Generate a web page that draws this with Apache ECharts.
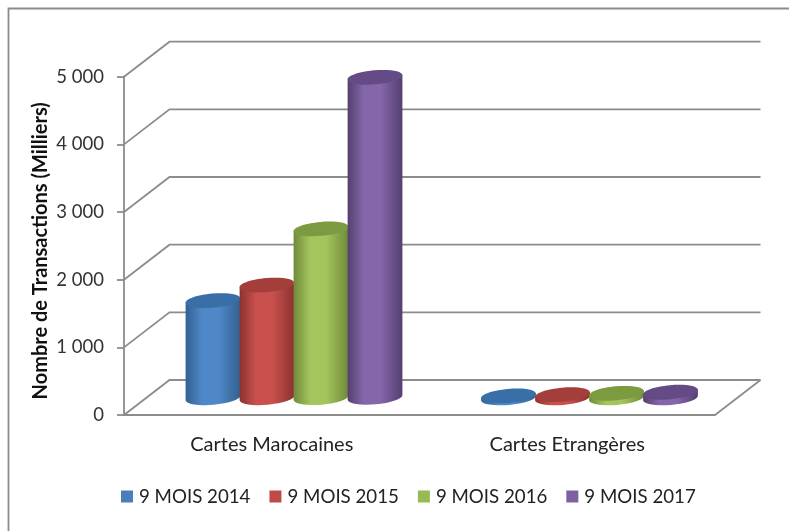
<!DOCTYPE html>
<html><head><meta charset="utf-8">
<style>html,body{margin:0;padding:0;background:#fff}#c{width:789px;height:531px}</style>
<script src="https://cdn.jsdelivr.net/npm/echarts@6/dist/echarts.min.js"></script>
</head><body><div id="c"></div>
<script>
const categories = ['Cartes Marocaines', 'Cartes Etrangères'];
const seriesNames = ['9 MOIS 2014', '9 MOIS 2015', '9 MOIS 2016', '9 MOIS 2017'];
const values2014 = [1440, 30];
const values2015 = [1670, 50];
const values2016 = [2500, 70];
const values2017 = [4740, 85];
const yTicks = [0, 1000, 2000, 3000, 4000, 5000];
const allValues = [values2014, values2015, values2016, values2017];

const palette = [
  {legend:'#4a7ebb', edge:'#33608f', mid:'#4f88c8', top:'#376fa6'},
  {legend:'#be4b48', edge:'#8a3331', mid:'#c9504d', top:'#a33e3b'},
  {legend:'#98b954', edge:'#6f8a3a', mid:'#a4c45c', top:'#7c9a40'},
  {legend:'#7d60a0', edge:'#54406f', mid:'#8566ab', top:'#644b85'}
];
const FONT = 'Lato';
const LINE = '#8c8c8c';
const DX = 45.5, DY = 35;          // depth of the 3D floor
const STEP = 54, RX = 27.6, RY = 7, TILT = 5 * Math.PI / 180;

function cylinder(i) {
  return function (params, api) {
    const cat = api.value(0), v = api.value(1);
    const p0 = api.coord([cat, 0]), p1 = api.coord([cat, v]);
    const cx = p0[0] + DX / 2 - 0.5 + (i - 1.5) * STEP;
    const base = p0[1] - DY / 2 + 0.5, top = p1[1] - DY / 2 + 0.5;
    const dx = RX * Math.cos(TILT), dy = RX * Math.sin(TILT);
    const deg = -TILT * 180 / Math.PI;
    const c = palette[i];
    const body = `M${cx - dx} ${top + dy}L${cx - dx} ${base + dy}A${RX} ${RY} ${deg} 0 0 ${cx + dx} ${base - dy}L${cx + dx} ${top - dy}Z`;
    return {type: 'group', silent: true, children: [
      {type: 'path', shape: {pathData: body, layout: 'center',
        x: cx - dx, y: top - dy, width: 2 * dx, height: base - top + RY + dy},
        style: {fill: {type: 'linear', x: 0, y: 0, x2: 1, y2: 0, colorStops: [
          {offset: 0, color: c.edge}, {offset: 0.3, color: c.mid}, {offset: 0.6, color: c.mid}, {offset: 1, color: c.edge}]}}},
      {type: 'ellipse', x: cx, y: top, rotation: TILT, shape: {cx: 0, cy: 0, rx: RX, ry: RY}, style: {fill: c.top}}
    ]};
  };
}

function walls(params, api) {
  const s = params.coordSys, v = api.value(0), y = api.coord([0, v])[1];
  const st = {stroke: LINE, lineWidth: 1.8, fill: 'none'};
  const ch = [
    {type: 'polyline', shape: {points: [[s.x, y], [s.x + DX, y - DY], [s.x + s.width + DX, y - DY]]}, style: st}
  ];
  if (v === 0) ch.push({type: 'line', shape: {x1: s.x + s.width, y1: y, x2: s.x + s.width + DX, y2: y - DY}, style: st});
  return {type: 'group', silent: true, children: ch};
}

const series = [{
  type: 'custom', name: 'walls', coordinateSystem: 'cartesian2d', clip: false, silent: true, z: 1,
  renderItem: walls, encode: {y: 0}, data: yTicks.map(v => [v])
}];
seriesNames.forEach((n, i) => series.push({
  type: 'custom', name: n, coordinateSystem: 'cartesian2d', clip: false, z: 3 + i,
  itemStyle: {color: palette[i].legend},
  encode: {x: 0, y: 1},
  renderItem: cylinder(i),
  data: categories.map((c, k) => [k, allValues[i][k]])
}));

const chart = echarts.init(document.getElementById('c'), null, {renderer: 'canvas'});
chart.setOption({
  animation: false,
  backgroundColor: '#fff',
  textStyle: {fontFamily: FONT},
  graphic: [{type: 'polyline', z: 0, shape: {points: [[8.5, 531], [8.5, 8.5], [789, 8.5]]},
    style: {fill: 'none', stroke: LINE, lineWidth: 1.8}}],
  grid: {left: 124, right: 74, top: 76.7, bottom: 116},
  legend: {data: seriesNames, left: 121, top: 487, padding: 0, icon: 'rect', itemWidth: 12, itemHeight: 12, itemGap: 19,
    textStyle: {fontFamily: FONT, fontSize: 18.7, color: '#222', padding: [0, 0, 0, 1]}},
  xAxis: {type: 'category', data: categories,
    axisLine: {show: true, onZero: false, lineStyle: {color: LINE, width: 1.8}},
    axisTick: {show: false},
    axisLabel: {fontFamily: FONT, fontSize: 20, color: '#222', margin: 20}},
  yAxis: {type: 'value', min: 0, max: 5000, interval: 1000,
    name: 'Nombre de Transactions (Milliers)', nameLocation: 'middle', nameGap: 73, nameMoveOverlap: false,
    nameTextStyle: {fontFamily: FONT, fontSize: 20, fontWeight: 'bold', color: '#111', padding: [0, 10, 0, 0]},
    axisLine: {show: true, lineStyle: {color: LINE, width: 1.8}},
    axisTick: {show: true, length: 7, lineStyle: {color: LINE, width: 1.8}},
    splitLine: {show: false},
    axisLabel: {fontFamily: FONT, fontSize: 18.5, color: '#333', margin: 20,
      formatter: v => v === 0 ? '0' : String(v / 1000) + ' 000'}},
  series: series
});
</script></body></html>
